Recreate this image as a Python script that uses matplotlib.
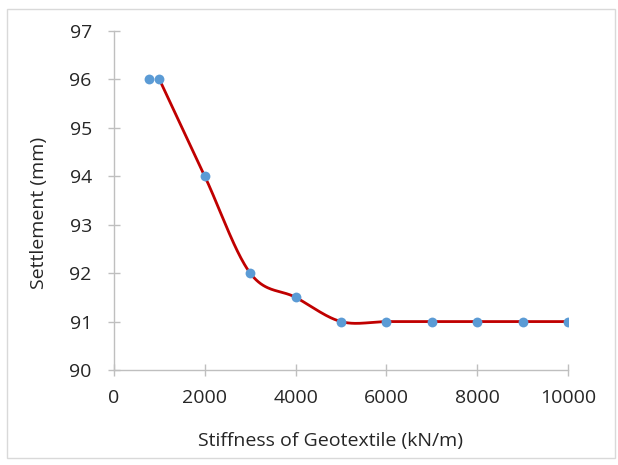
import numpy as np
import matplotlib.pyplot as plt
from matplotlib.patches import Rectangle

# Data
stiffness = [780, 1000, 2000, 3000, 4000, 5000, 6000, 7000, 8000, 9000, 10000]
settlement = [96, 96, 94, 92, 91.5, 91, 91, 91, 91, 91, 91]

x_ticks = [0, 2000, 4000, 6000, 8000, 10000]
y_ticks = [90, 91, 92, 93, 94, 95, 96, 97]


def smooth_curve(xs, ys, n=40):
    # Excel-like smoothed line (Catmull-Rom as cubic Bezier)
    xs = np.asarray(xs, float)
    ys = np.asarray(ys, float)
    px, py = [], []
    for i in range(len(xs) - 1):
        i0 = max(i - 1, 0)
        i3 = min(i + 2, len(xs) - 1)
        c1x = xs[i] + (xs[i + 1] - xs[i0]) / 6
        c1y = ys[i] + (ys[i + 1] - ys[i0]) / 6
        c2x = xs[i + 1] - (xs[i3] - xs[i]) / 6
        c2y = ys[i + 1] - (ys[i3] - ys[i]) / 6
        t = np.linspace(0, 1, n)
        bx = ((1 - t) ** 3 * xs[i] + 3 * (1 - t) ** 2 * t * c1x
              + 3 * (1 - t) * t ** 2 * c2x + t ** 3 * xs[i + 1])
        by = ((1 - t) ** 3 * ys[i] + 3 * (1 - t) ** 2 * t * c1y
              + 3 * (1 - t) * t ** 2 * c2y + t ** 3 * ys[i + 1])
        px.extend(bx)
        py.extend(by)
    return np.array(px), np.array(py)


plt.rcParams['font.family'] = ['Open Sans', 'DejaVu Sans']
text_color = '#262626'

fig = plt.figure(figsize=(6.18, 4.65), dpi=100)
ax = fig.add_axes([0.1845, 0.2043, 0.7346, 0.729])

# light frame around the chart area
fig.patches.append(Rectangle((0.012, 0.015), 0.983, 0.965, transform=fig.transFigure,
                             fill=False, edgecolor='#d9d9d9', linewidth=1))

cx, cy = smooth_curve(stiffness[1:], settlement[1:])
ax.plot(cx, cy, color='#c00000', linewidth=2, zorder=2)
ax.scatter(stiffness, settlement, s=50, color='#5b9bd5', zorder=3, linewidths=0)

ax.set_xlim(0, 10000)
ax.set_ylim(90, 97)
ax.set_xticks(x_ticks)
ax.set_yticks(y_ticks)

for side in ['top', 'right']:
    ax.spines[side].set_visible(False)
for side in ['left', 'bottom']:
    ax.spines[side].set_color('#bfbfbf')
    ax.spines[side].set_linewidth(1)

ax.tick_params(axis='both', direction='inout', length=8, width=1, color='#bfbfbf',
               labelsize=14, labelcolor=text_color)
ax.tick_params(axis='x', pad=10)
ax.tick_params(axis='y', pad=12)

ax.set_xlabel('Stiffness of Geotextile (kN/m)', fontsize=14, color=text_color)
ax.set_ylabel('Settlement (mm)', fontsize=14, color=text_color)
ax.xaxis.set_label_coords(0.476, -0.183)
ax.yaxis.set_label_coords(-0.145, 0.463)

fig.savefig('out.png', dpi=100)
